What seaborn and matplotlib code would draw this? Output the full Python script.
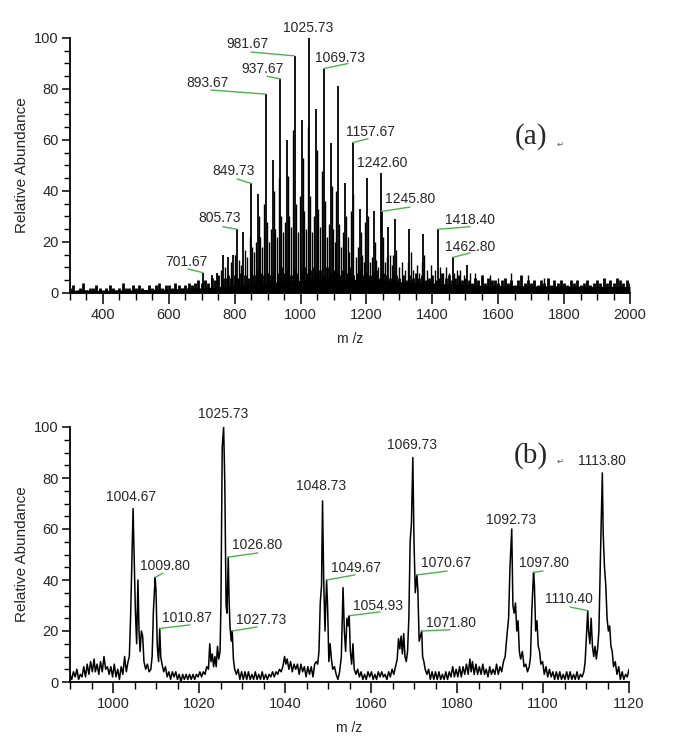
import numpy as np
import matplotlib
matplotlib.use("Agg")
import matplotlib.pyplot as plt
from matplotlib.ticker import MultipleLocator
import seaborn as sns

# ---- panel (a): full scan, stick peaks ----
peak_mz_a = [703, 730, 745, 765, 780, 795, 805.73, 826, 849.73, 871, 893.67, 915,
             937.67, 959, 981.67, 1003, 1025.73, 1047, 1069.73, 1092, 1113, 1135,
             1157.67, 1179, 1201, 1223, 1242.6, 1245.8, 1266, 1286, 1330, 1372,
             1418.4, 1462.8, 1506]
peak_ab_a = [8, 7, 8, 15, 14, 15, 25, 24, 43, 39, 78, 52,
             84, 60, 93, 68, 100, 72, 88, 59, 81, 43,
             59, 33, 45, 32, 47, 32, 26, 29, 25, 23,
             25, 14, 11]

# smaller satellite lines inside each cluster
sat_mz_a = [757, 772, 788, 800, 812, 818, 830, 838, 846, 853, 860, 866, 875, 878,
            884, 889, 897, 904, 910, 919, 922, 928, 933, 941, 948, 954, 963,
            966, 972, 977, 985, 992, 998, 1007, 1010, 1016, 1021, 1029, 1036, 1042,
            1051, 1054, 1060, 1065, 1073, 1080, 1086, 1096,
            1099, 1104, 1109, 1117, 1124, 1130, 1139, 1143, 1148, 1153, 1160, 1168,
            1174, 1183, 1186, 1192, 1197, 1205, 1212, 1218, 1227,
            1230, 1236, 1249, 1256, 1262, 1270, 1276, 1282, 1290, 1298, 1309, 1318,
            1326, 1334, 1342, 1352, 1360, 1368, 1376,
            1385, 1396, 1408, 1422, 1432, 1441, 1452, 1467, 1476, 1485, 1496, 1515,
            1530, 1552, 1575, 1600, 1640, 1690, 1740]
sat_ab_a = [9, 10, 12, 15, 13, 11, 17, 14, 22, 18, 16, 20, 30, 22,
            18, 35, 28, 20, 25, 40, 25, 22, 45, 30, 24, 28, 46,
            30, 26, 64, 35, 24, 38, 53, 32, 25, 65, 38, 24, 30,
            56, 33, 26, 48, 36, 22, 27, 42,
            25, 20, 40, 27, 18, 24, 30, 22, 16, 32, 39, 14,
            18, 24, 15, 12, 28, 30, 12, 14, 20,
            13, 10, 22, 12, 14, 15, 11, 15, 17, 10, 12, 9,
            12, 16, 9, 11, 8, 12, 15,
            9, 11, 9, 10, 8, 10, 8, 8, 9, 9, 7, 8,
            8, 7, 7, 6, 8, 7, 6]

# chemical noise spikes, every 10 m/z from 300 to 2000
noise_mz_a = list(range(300, 2001, 10))
noise_ab_a = [2, 3, 1, 2, 4, 1, 2, 2, 3, 2,
              1, 2, 3, 2, 1, 2, 4, 2, 2, 3,
              2, 3, 2, 1, 3, 2, 3, 4, 2, 3,
              3, 2, 4, 3, 2, 3, 4, 3, 4, 5,
              4, 5, 4, 6, 5, 7, 5, 6, 7, 6,
              7, 6, 8, 7, 6, 8, 7, 9, 8, 7,
              8, 7, 9, 8, 10, 8, 9, 7, 9, 8,
              9, 10, 8, 9, 10, 8, 9, 7, 10, 8,
              9, 8, 7, 9, 8, 10, 7, 8, 9, 7,
              8, 7, 8, 9, 6, 8, 7, 6, 8, 7,
              6, 7, 5, 7, 6, 8, 6, 7, 5, 6,
              7, 5, 6, 8, 6, 7, 5, 6, 7, 5,
              6, 5, 4, 6, 5, 7, 4, 6, 5, 5,
              4, 5, 6, 4, 5, 3, 5, 7, 4, 5,
              4, 5, 3, 5, 4, 6, 3, 5, 4, 5,
              4, 3, 5, 4, 5, 3, 4, 5, 3, 4,
              5, 4, 6, 4, 5, 4, 6, 5, 4, 5,
              4]
# solid baseline mass, every 50 m/z
floor_mz_a = list(range(300, 2001, 50))
floor_ab_a = [1, 1.2, 1, 1.2, 1.2, 1.5, 1.5, 2, 2, 2.5, 3, 3.5, 4, 4.5, 5, 5.5,
              5.5, 5.5, 5, 5, 4.5, 4, 4, 3.5, 3.5, 3, 3, 3, 2.8, 2.8,
              2.8, 2.6, 2.6, 2.6, 2.6]

# ---- panel (b): zoomed profile 990-1120 ----
mz_b = [990.0, 990.4, 990.8, 991.2, 991.6, 992.0, 992.4, 992.8, 993.2, 993.6, 994.0, 994.4,
        994.8, 995.2, 995.6, 995.9, 996.3, 996.7, 997.1, 997.5, 997.9, 998.3, 998.7, 999.1,
        999.5, 999.9, 1000.3, 1000.7, 1001.1, 1001.5, 1001.9, 1002.3, 1002.7, 1003.1, 1003.5,
        1003.8, 1004.1, 1004.4, 1004.67, 1004.9, 1005.2, 1005.5, 1005.8, 1006.05, 1006.3,
        1006.6, 1006.9, 1007.2, 1007.6, 1008.0, 1008.4, 1008.8, 1009.1, 1009.4, 1009.8,
        1010.0, 1010.3, 1010.6, 1010.87, 1011.1, 1011.4, 1011.8, 1012.2, 1012.6, 1013.0,
        1013.4, 1013.8, 1014.2, 1014.6, 1015.0, 1015.4, 1015.8, 1016.2, 1016.6, 1017.0,
        1017.4, 1017.8, 1018.2, 1018.6, 1019.0, 1019.4, 1019.8, 1020.2, 1020.6, 1021.0,
        1021.4, 1021.8, 1022.2, 1022.5, 1022.8, 1023.1, 1023.4, 1023.7, 1024.0, 1024.3,
        1024.6, 1024.9, 1025.1, 1025.4, 1025.73, 1026.0, 1026.3, 1026.5, 1026.8, 1027.0,
        1027.2, 1027.5, 1027.73, 1028.0, 1028.3, 1028.7, 1029.1, 1029.5, 1029.9, 1030.3,
        1030.7, 1031.1, 1031.5, 1031.9, 1032.3, 1032.7, 1033.1, 1033.5, 1033.9, 1034.3,
        1034.7, 1035.1, 1035.5, 1035.9, 1036.3, 1036.7, 1037.1, 1037.5, 1037.9, 1038.3,
        1038.7, 1039.1, 1039.5, 1039.9, 1040.2, 1040.5, 1040.9, 1041.3, 1041.7, 1042.1,
        1042.5, 1042.9, 1043.3, 1043.7, 1044.1, 1044.5, 1044.9, 1045.3, 1045.7, 1046.1,
        1046.5, 1046.9, 1047.3, 1047.6, 1047.9, 1048.2, 1048.5, 1048.73, 1049.0, 1049.3,
        1049.67, 1049.9, 1050.2, 1050.5, 1050.8, 1051.1, 1051.5, 1051.9, 1052.3, 1052.7,
        1053.1, 1053.5, 1053.8, 1054.1, 1054.4, 1054.7, 1054.93, 1055.2, 1055.5, 1055.8,
        1056.1, 1056.5, 1056.9, 1057.3, 1057.7, 1058.1, 1058.5, 1058.9, 1059.3, 1059.7,
        1060.1, 1060.5, 1060.9, 1061.3, 1061.7, 1062.1, 1062.5, 1062.9, 1063.3, 1063.7,
        1064.1, 1064.5, 1064.9, 1065.3, 1065.7, 1066.1, 1066.4, 1066.7, 1067.0, 1067.3,
        1067.6, 1067.9, 1068.2, 1068.5, 1068.8, 1069.1, 1069.4, 1069.73, 1070.0, 1070.3,
        1070.67, 1070.9, 1071.2, 1071.5, 1071.8, 1072.0, 1072.3, 1072.6, 1073.0, 1073.4,
        1073.8, 1074.2, 1074.6, 1075.0, 1075.4, 1075.8, 1076.2, 1076.6, 1077.0, 1077.4,
        1077.8, 1078.2, 1078.6, 1079.0, 1079.4, 1079.8, 1080.2, 1080.6, 1081.0, 1081.4,
        1081.8, 1082.2, 1082.6, 1083.0, 1083.3, 1083.6, 1084.0, 1084.4, 1084.8, 1085.2,
        1085.6, 1086.0, 1086.4, 1086.8, 1087.2, 1087.6, 1088.0, 1088.4, 1088.8, 1089.2,
        1089.6, 1090.0, 1090.4, 1090.8, 1091.2, 1091.6, 1092.0, 1092.3, 1092.73, 1093.0,
        1093.3, 1093.6, 1093.9, 1094.2, 1094.5, 1094.8, 1095.2, 1095.6, 1096.0, 1096.4,
        1096.8, 1097.1, 1097.4, 1097.8, 1098.0, 1098.3, 1098.6, 1098.9, 1099.2, 1099.5,
        1099.9, 1100.3, 1100.7, 1101.1, 1101.5, 1101.9, 1102.3, 1102.7, 1103.1, 1103.5,
        1103.9, 1104.3, 1104.7, 1105.1, 1105.5, 1105.9, 1106.3, 1106.7, 1107.1, 1107.5,
        1107.9, 1108.3, 1108.7, 1109.1, 1109.5, 1109.8, 1110.1, 1110.4, 1110.6, 1110.9,
        1111.2, 1111.5, 1111.8, 1112.1, 1112.4, 1112.7, 1113.0, 1113.3, 1113.5, 1113.8,
        1114.0, 1114.3, 1114.6, 1114.9, 1115.2, 1115.5, 1115.8, 1116.1, 1116.4, 1116.8,
        1117.2, 1117.6, 1118.0, 1118.4, 1118.8, 1119.2, 1119.6, 1120.0]
ab_b = [3, 1, 4, 2, 5, 1, 3, 2, 6, 2, 7, 3,
        8, 4, 9, 4, 7, 3, 8, 4, 10, 5, 6, 3,
        6, 2, 7, 2, 5, 1, 6, 3, 10, 4, 8,
        10, 26, 49, 68, 51, 28, 15, 40, 20, 12,
        20, 18, 8, 5, 7, 4, 5, 10, 28, 41,
        36, 14, 8, 21, 10, 7, 4, 6, 2, 4,
        1, 4, 2, 4, 1, 3, 0, 3, 1, 3,
        1, 3, 1, 3, 1, 3, 2, 4, 2, 4,
        3, 6, 5, 15, 8, 11, 6, 10, 6, 14,
        9, 12, 30, 92, 100, 78, 30, 27, 49, 32,
        22, 16, 20, 9, 5, 3, 5, 1, 4, 1,
        4, 1, 4, 1, 3, 1, 4, 1, 3, 1,
        4, 1, 3, 1, 3, 2, 4, 2, 4, 3,
        5, 4, 6, 10, 7, 9, 5, 8, 4, 7,
        5, 7, 3, 7, 4, 6, 2, 6, 3, 6,
        2, 7, 8, 7, 12, 31, 38, 71, 40, 20,
        40, 30, 8, 15, 9, 5, 6, 3, 1, 4,
        10, 37, 20, 12, 25, 22, 26, 12, 7, 15,
        5, 3, 5, 2, 4, 1, 3, 1, 4, 2,
        4, 1, 3, 1, 4, 2, 4, 2, 3, 1,
        4, 2, 5, 3, 6, 9, 17, 13, 18, 11,
        19, 10, 8, 12, 25, 55, 62, 88, 55, 35,
        42, 36, 16, 18, 20, 10, 8, 5, 3, 5,
        1, 4, 1, 4, 1, 4, 1, 3, 1, 4,
        1, 4, 2, 6, 2, 5, 2, 6, 2, 6,
        3, 7, 3, 9, 4, 8, 3, 7, 3, 6,
        3, 7, 3, 5, 2, 6, 3, 5, 3, 7,
        3, 6, 4, 8, 10, 18, 25, 44, 60, 30,
        27, 31, 20, 24, 12, 9, 12, 6, 7, 4,
        6, 10, 28, 43, 38, 20, 24, 14, 12, 7,
        8, 3, 6, 2, 5, 2, 4, 1, 4, 1,
        4, 1, 3, 1, 4, 1, 4, 1, 3, 1,
        4, 1, 3, 2, 4, 8, 18, 28, 20, 15,
        25, 14, 10, 14, 9, 13, 20, 45, 60, 82,
        58, 45, 38, 25, 20, 22, 14, 12, 6, 8,
        3, 6, 1, 4, 1, 3, 2, 5]

# label text, label x, label y, leader start (x, y) or None, peak top (x, y)
labels_a = [
    ("1025.73", 1022, 104, None, None),
    ("981.67", 840, 97.5, (849, 94.5), (981.67, 93)),
    ("937.67", 886, 88, (898, 85), (937.67, 84)),
    ("893.67", 719, 82.5, (728, 79.6), (893.67, 78)),
    ("1069.73", 1120, 92, (1144, 90), (1069.73, 88)),
    ("849.73", 798, 48, (807, 44.7), (849.73, 43)),
    ("805.73", 755, 29.5, (764, 26), (805.73, 25)),
    ("701.67", 652, 12.3, (658, 9.4), (703, 8)),
    ("1157.67", 1211, 63, (1205, 60.5), (1157.67, 59)),
    ("1242.60", 1247, 51, None, None),
    ("1245.80", 1332, 37, (1332, 33.7), (1245.8, 32)),
    ("1418.40", 1514, 28.6, (1514, 26), (1418.4, 25)),
    ("1462.80", 1514, 18, (1514, 15.7), (1462.8, 14)),
]
labels_b = [
    ("1004.67", 1004.2, 72.5, None, None),
    ("1025.73", 1025.5, 105, None, None),
    ("1048.73", 1048.5, 77, None, None),
    ("1069.73", 1069.5, 93, None, None),
    ("1092.73", 1092.6, 63.5, None, None),
    ("1113.80", 1113.7, 86.5, None, None),
    ("1009.80", 1012.1, 45.5, (1011.6, 42.7), (1009.8, 41)),
    ("1010.87", 1017.3, 25, (1017.9, 22.4), (1010.87, 21)),
    ("1026.80", 1033.5, 53.7, (1033.7, 50.6), (1026.8, 49)),
    ("1027.73", 1034.4, 24.3, (1033.5, 21.6), (1027.73, 20)),
    ("1049.67", 1056.5, 44.7, (1056.3, 42), (1049.67, 40)),
    ("1054.93", 1061.6, 29.8, (1062.1, 27.5), (1054.93, 26)),
    ("1070.67", 1077.4, 46.7, (1077.7, 43.5), (1070.67, 42)),
    ("1071.80", 1078.6, 23, (1078.4, 20.5), (1071.8, 20)),
    ("1097.80", 1100.2, 46.7, (1100.0, 43.5), (1097.8, 43)),
    ("1110.40", 1106.0, 32.5, (1106.3, 29.4), (1110.4, 28)),
]

sns.set_style("ticks")
plt.rcParams['font.family'] = ['Liberation Sans', 'DejaVu Sans']

green = "#4fb04f"

fig = plt.figure(figsize=(6.84, 7.46), dpi=100)
ax_a = fig.add_axes([70/684, 1-293/746, 560/684, 255/746])
ax_b = fig.add_axes([70/684, 1-682/746, 559/684, 255/746])

# panel a
ax_a.fill_between(floor_mz_a, 0, floor_ab_a, color="black", lw=0)
ax_a.vlines(noise_mz_a, 0, noise_ab_a, color="black", lw=2.0)
ax_a.vlines(sat_mz_a, 0, sat_ab_a, color="black", lw=1.0)
ax_a.vlines(peak_mz_a, 0, peak_ab_a, color="black", lw=1.3)

# panel b
sns.lineplot(x=mz_b, y=ab_b, ax=ax_b, color="black", lw=1.1,
             estimator=None, sort=False)


def add_labels(ax, labels):
    for txt, lx, ly, lead, top in labels:
        ax.text(lx, ly, txt, ha="center", va="center", fontsize=10, clip_on=False)
        if lead is not None:
            ax.plot([lead[0], top[0]], [lead[1], top[1]], color=green, lw=1.0,
                    clip_on=False)


add_labels(ax_a, labels_a)
add_labels(ax_b, labels_b)

ax_a.set_xlim(300, 2000)
ax_b.set_xlim(990, 1120)
ax_a.xaxis.set_major_locator(MultipleLocator(200))
ax_a.xaxis.set_minor_locator(MultipleLocator(50))
ax_b.xaxis.set_major_locator(MultipleLocator(20))
ax_b.xaxis.set_minor_locator(MultipleLocator(5))

for ax in (ax_a, ax_b):
    ax.set_ylim(0, 100)
    ax.yaxis.set_major_locator(MultipleLocator(20))
    ax.yaxis.set_minor_locator(MultipleLocator(5))
    sns.despine(ax=ax)
    for side in ("left", "bottom"):
        ax.spines[side].set_linewidth(1.3)
        ax.spines[side].set_color("black")
    ax.tick_params(axis="x", which="major", length=8, width=1.1, pad=3,
                   labelsize=10.5, color="black")
    ax.tick_params(axis="x", which="minor", length=5, width=1.0, color="black")
    ax.tick_params(axis="y", which="major", length=6, width=1.1, pad=2,
                   labelsize=10.5, color="black")
    ax.tick_params(axis="y", which="minor", length=4, width=1.0, color="black")
    ax.set_ylabel("Relative Abundance", fontsize=11, labelpad=4)
    ax.set_xlabel("m /z", fontsize=10, labelpad=7)

ax_a.text(0.823, 0.612, "(a)", transform=ax_a.transAxes, ha="center", va="center",
          fontsize=21, family=["Liberation Serif", "DejaVu Serif"])
ax_a.text(0.875, 0.585, "\u21b5", transform=ax_a.transAxes, ha="center", va="center",
          fontsize=6, color="#555555", family=["DejaVu Sans"])
ax_b.text(0.825, 0.89, "(b)", transform=ax_b.transAxes, ha="center", va="center",
          fontsize=21, family=["Liberation Serif", "DejaVu Serif"])
ax_b.text(0.877, 0.865, "\u21b5", transform=ax_b.transAxes, ha="center", va="center",
          fontsize=6, color="#555555", family=["DejaVu Sans"])

fig.savefig("out.png", dpi=100)
